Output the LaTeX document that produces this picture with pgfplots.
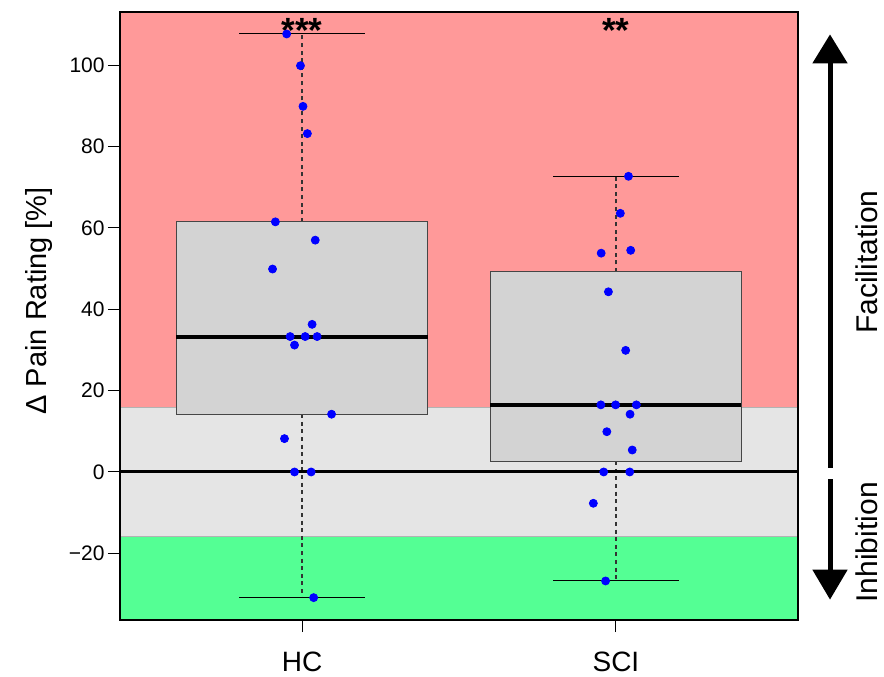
\documentclass[border=0pt]{standalone}
\usepackage{fontspec}
\setmainfont{Liberation Sans}
\usepackage{pgfplots}
\pgfplotsset{compat=1.18}
\usetikzlibrary{arrows.meta}
\definecolor{bandred}{RGB}{255,153,153}
\definecolor{bandgray}{RGB}{229,229,229}
\definecolor{bandgreen}{RGB}{84,255,148}
\definecolor{boxfill}{RGB}{211,211,211}
\definecolor{boxedge}{RGB}{70,70,70}
\pgfplotstableread{
x y
0.951 107.7
0.995 99.9
1.003 89.9
1.017 83.2
0.915 61.5
1.042 57.0
0.906 49.9
1.032 36.3
0.962 33.3
1.010 33.3
1.048 33.3
0.976 31.2
1.094 14.2
0.944 8.2
0.976 0
1.029 0
1.037 -30.9
}\hcdata
\pgfplotstableread{
x y
2.040 72.7
2.014 63.6
1.953 53.8
2.047 54.5
1.976 44.3
2.031 29.9
1.952 16.5
1.999 16.5
2.065 16.5
2.045 14.2
1.971 9.9
2.052 5.4
1.961 0
2.044 0
1.928 -7.7
1.967 -26.8
}\scidata
\begin{document}
\begin{tikzpicture}
\useasboundingbox (-60pt,-28pt) rectangle (382pt,310pt);
\begin{axis}[
  at={(0,0)}, anchor=south west,
  scale only axis, width=339pt, height=304pt,
  xmin=0.42, xmax=2.58, ymin=-36.4, ymax=113.1,
  axis on top, clip=false,
  axis line style={black, line width=0.6pt},
  xtick={1,2}, xticklabels={HC,SCI},
  ytick={-20,0,20,40,60,80,100},
  yticklabels={−20,0,20,40,60,80,100},
  xtick pos=bottom, ytick pos=left,
  tick align=outside, major tick length=6pt,
  tick style={black, line width=0.5pt},
  yticklabel style={font=\fontsize{10.5}{12}\selectfont, inner sep=0pt, xshift=-1.5pt},
  xticklabel style={font=\fontsize{14}{16}\selectfont, inner sep=0pt, anchor=north, yshift=-10pt},
  ylabel={Δ Pain Rating [\%]},
  ylabel style={font=\fontsize{14.5}{17}\selectfont, at={(axis description cs:-0.12,0.525)}, anchor=center, rotate=0},
]
% background bands
\addplot[draw=none, fill=bandred] coordinates {(0.42,15.8) (2.58,15.8) (2.58,113.1) (0.42,113.1)} -- cycle;
\addplot[draw=none, fill=bandgray] coordinates {(0.42,-15.8) (2.58,-15.8) (2.58,15.8) (0.42,15.8)} -- cycle;
\addplot[draw=none, fill=bandgreen] coordinates {(0.42,-36.4) (2.58,-36.4) (2.58,-15.8) (0.42,-15.8)} -- cycle;
\addplot[gray!60, line width=0.4pt] coordinates {(0.42,15.8) (2.58,15.8)};
\addplot[gray!60, line width=0.4pt] coordinates {(0.42,-15.8) (2.58,-15.8)};
% HC box
\addplot[black!80, dash pattern=on 2pt off 1.8pt, line width=0.6pt] coordinates {(1,61.5) (1,107.7)};
\addplot[black!80, dash pattern=on 2pt off 1.8pt, line width=0.6pt] coordinates {(1,14.2) (1,-30.9)};
\addplot[black, line width=0.5pt] coordinates {(0.8,107.7) (1.2,107.7)};
\addplot[black, line width=0.5pt] coordinates {(0.8,-30.9) (1.2,-30.9)};
\addplot[draw=boxedge, fill=boxfill, line width=0.6pt] coordinates {(0.6,14.2) (1.4,14.2) (1.4,61.5) (0.6,61.5)} -- cycle;
\addplot[black, line width=2pt] coordinates {(0.6,33.3) (1.4,33.3)};
% SCI box
\addplot[black!80, dash pattern=on 2pt off 1.8pt, line width=0.6pt] coordinates {(2,49.2) (2,72.7)};
\addplot[black!80, dash pattern=on 2pt off 1.8pt, line width=0.6pt] coordinates {(2,2.66) (2,-26.8)};
\addplot[black, line width=0.5pt] coordinates {(1.8,72.7) (2.2,72.7)};
\addplot[black, line width=0.5pt] coordinates {(1.8,-26.8) (2.2,-26.8)};
\addplot[draw=boxedge, fill=boxfill, line width=0.6pt] coordinates {(1.6,2.66) (2.4,2.66) (2.4,49.2) (1.6,49.2)} -- cycle;
\addplot[black, line width=2pt] coordinates {(1.6,16.5) (2.4,16.5)};
% zero line
\addplot[black, line width=1.5pt] coordinates {(0.42,0) (2.58,0)};
% points
\addplot[only marks, mark=*, mark size=2pt, mark options={fill=blue, draw=blue}] table[x=x,y=y] {\hcdata};
\addplot[only marks, mark=*, mark size=2pt, mark options={fill=blue, draw=blue}] table[x=x,y=y] {\scidata};
% stars
\node[anchor=base, font=\fontsize{17.5}{20}\selectfont\bfseries] at (axis cs:1,105.6) {***};
\node[anchor=base, font=\fontsize{17.5}{20}\selectfont\bfseries] at (axis cs:2,105.6) {**};
% arrows
\draw[line width=2.5pt, -{Triangle[length=14.5pt,width=17pt]}] (axis cs:2.682,1.0) -- (axis cs:2.682,107.6);
\draw[line width=2.5pt, -{Triangle[length=15pt,width=17pt]}] (axis cs:2.682,-1.85) -- (axis cs:2.682,-31.4);
\node[rotate=90, inner sep=0pt, font=\fontsize{15}{18}\selectfont] at (axis cs:2.80,51.6) {Facilitation};
\node[rotate=90, inner sep=0pt, font=\fontsize{15}{18}\selectfont] at (axis cs:2.80,-17.3) {Inhibition};
\end{axis}
\end{tikzpicture}
\end{document}
